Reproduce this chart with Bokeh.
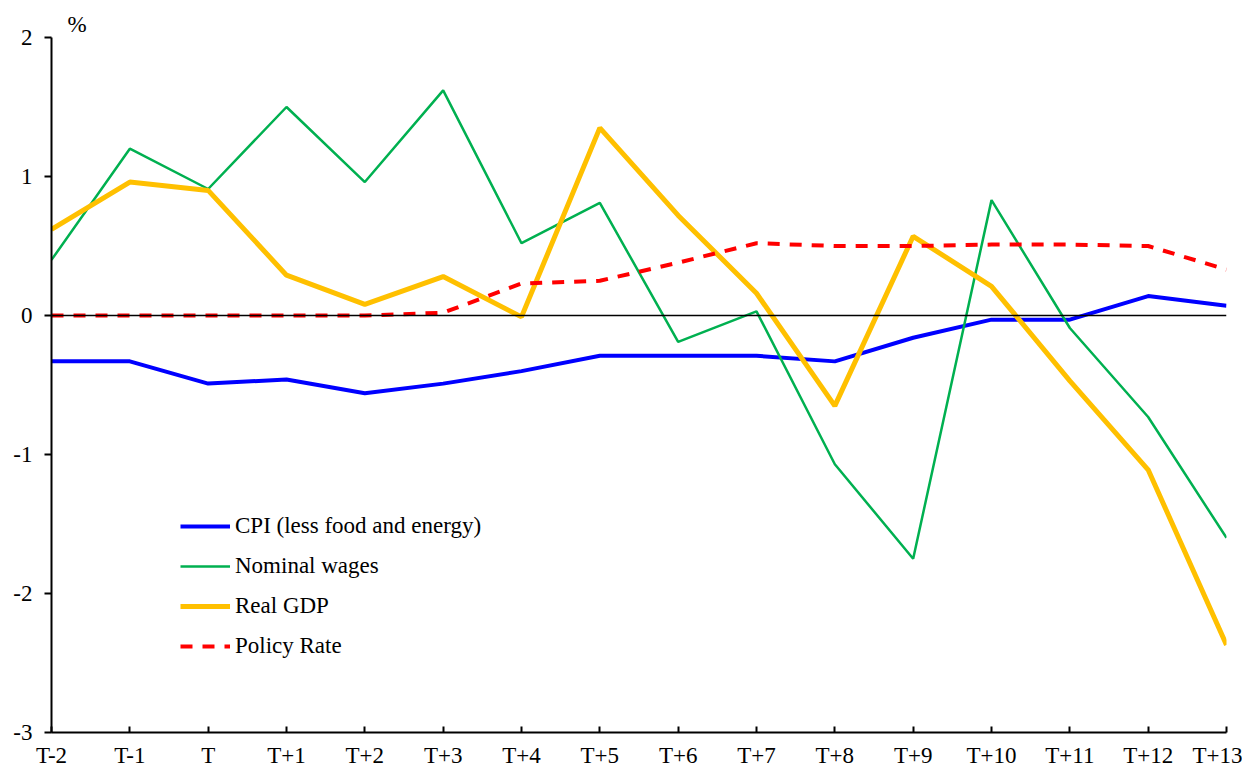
from bokeh.plotting import figure
from bokeh.models import Range1d, FixedTicker, Legend, LegendItem, Span
from bokeh.embed import file_html
from bokeh.resources import INLINE

periods = ["T-2", "T-1", "T", "T+1", "T+2", "T+3", "T+4", "T+5", "T+6", "T+7",
           "T+8", "T+9", "T+10", "T+11", "T+12", "T+13"]
cpi = [-0.33, -0.33, -0.49, -0.46, -0.56, -0.49, -0.40, -0.29, -0.29, -0.29,
       -0.33, -0.16, -0.03, -0.03, 0.14, 0.07]
wages = [0.40, 1.20, 0.91, 1.50, 0.96, 1.62, 0.52, 0.81, -0.19, 0.03,
         -1.07, -1.75, 0.83, -0.09, -0.73, -1.60]
gdp = [0.62, 0.96, 0.90, 0.29, 0.08, 0.28, -0.01, 1.35, 0.72, 0.16,
       -0.65, 0.57, 0.21, -0.47, -1.11, -2.37]
policy = [0.0, 0.0, 0.0, 0.0, 0.0, 0.02, 0.23, 0.25, 0.38, 0.52,
          0.50, 0.50, 0.51, 0.51, 0.50, 0.33]
y_ticks = [-3, -2, -1, 0, 1, 2]
y_labels = ["-3", "-2", "-1", "0", "1", "2"]

x = list(range(len(periods)))
FONT = "Liberation Serif"
FS = "23px"

p = figure(frame_width=1175, frame_height=695,
           x_range=Range1d(0, len(periods) - 1), y_range=Range1d(-3, 2),
           output_backend="svg", toolbar_location=None,
           min_border_left=51, min_border_top=37, min_border_right=16,
           min_border_bottom=20)
p.outline_line_color = None
p.xgrid.visible = False
p.ygrid.visible = False
p.background_fill_color = "white"
p.border_fill_color = "white"

# "%" unit label above the y axis
p.title.text = "%"
p.title.align = "left"
p.title.offset = 16
p.title.standoff = 2
p.title.text_font = FONT
p.title.text_font_size = FS
p.title.text_font_style = "normal"
p.title.text_color = "black"

# axes
p.xaxis.ticker = FixedTicker(ticks=x)
p.xaxis.major_label_overrides = {i: s for i, s in enumerate(periods)}
p.yaxis.ticker = FixedTicker(ticks=y_ticks)
p.yaxis.major_label_overrides = {t: s for t, s in zip(y_ticks, y_labels)}
for ax in (p.xaxis[0], p.yaxis[0]):
    ax.axis_line_color = "black"
    ax.axis_line_width = 2
    ax.major_tick_line_color = "black"
    ax.major_tick_line_width = 2
    ax.minor_tick_line_color = None
    ax.major_label_text_font = FONT
    ax.major_label_text_font_size = FS
    ax.major_label_text_color = "black"
p.xaxis.major_tick_in = 6
p.xaxis.major_tick_out = 0
p.xaxis.major_label_standoff = 10
p.yaxis.major_tick_in = 0
p.yaxis.major_tick_out = 7
p.yaxis.major_label_standoff = 12

# zero line
p.add_layout(Span(location=0, dimension="width", line_color="black", line_width=1.5))

r_cpi = p.line(x, cpi, line_color="#0000FF", line_width=4)
r_wages = p.line(x, wages, line_color="#00B050", line_width=2.5)
r_gdp = p.line(x, gdp, line_color="#FFC000", line_width=5)
r_pol = p.line(x, policy, line_color="#FF0000", line_width=4, line_dash="12 10")

legend = Legend(items=[
    LegendItem(label="CPI (less food and energy)", renderers=[r_cpi]),
    LegendItem(label="Nominal wages", renderers=[r_wages]),
    LegendItem(label="Real GDP", renderers=[r_gdp]),
    LegendItem(label="Policy Rate", renderers=[r_pol]),
], location=(129, 73))
legend.background_fill_alpha = 0
legend.border_line_color = None
legend.padding = 0
legend.margin = 0
legend.glyph_width = 50
legend.glyph_height = 26
legend.label_height = 26
legend.spacing = 14
legend.label_standoff = 5
legend.label_text_font = FONT
legend.label_text_font_size = FS
legend.label_text_color = "black"
p.add_layout(legend)

open("out.html", "w").write(file_html(p, INLINE))
